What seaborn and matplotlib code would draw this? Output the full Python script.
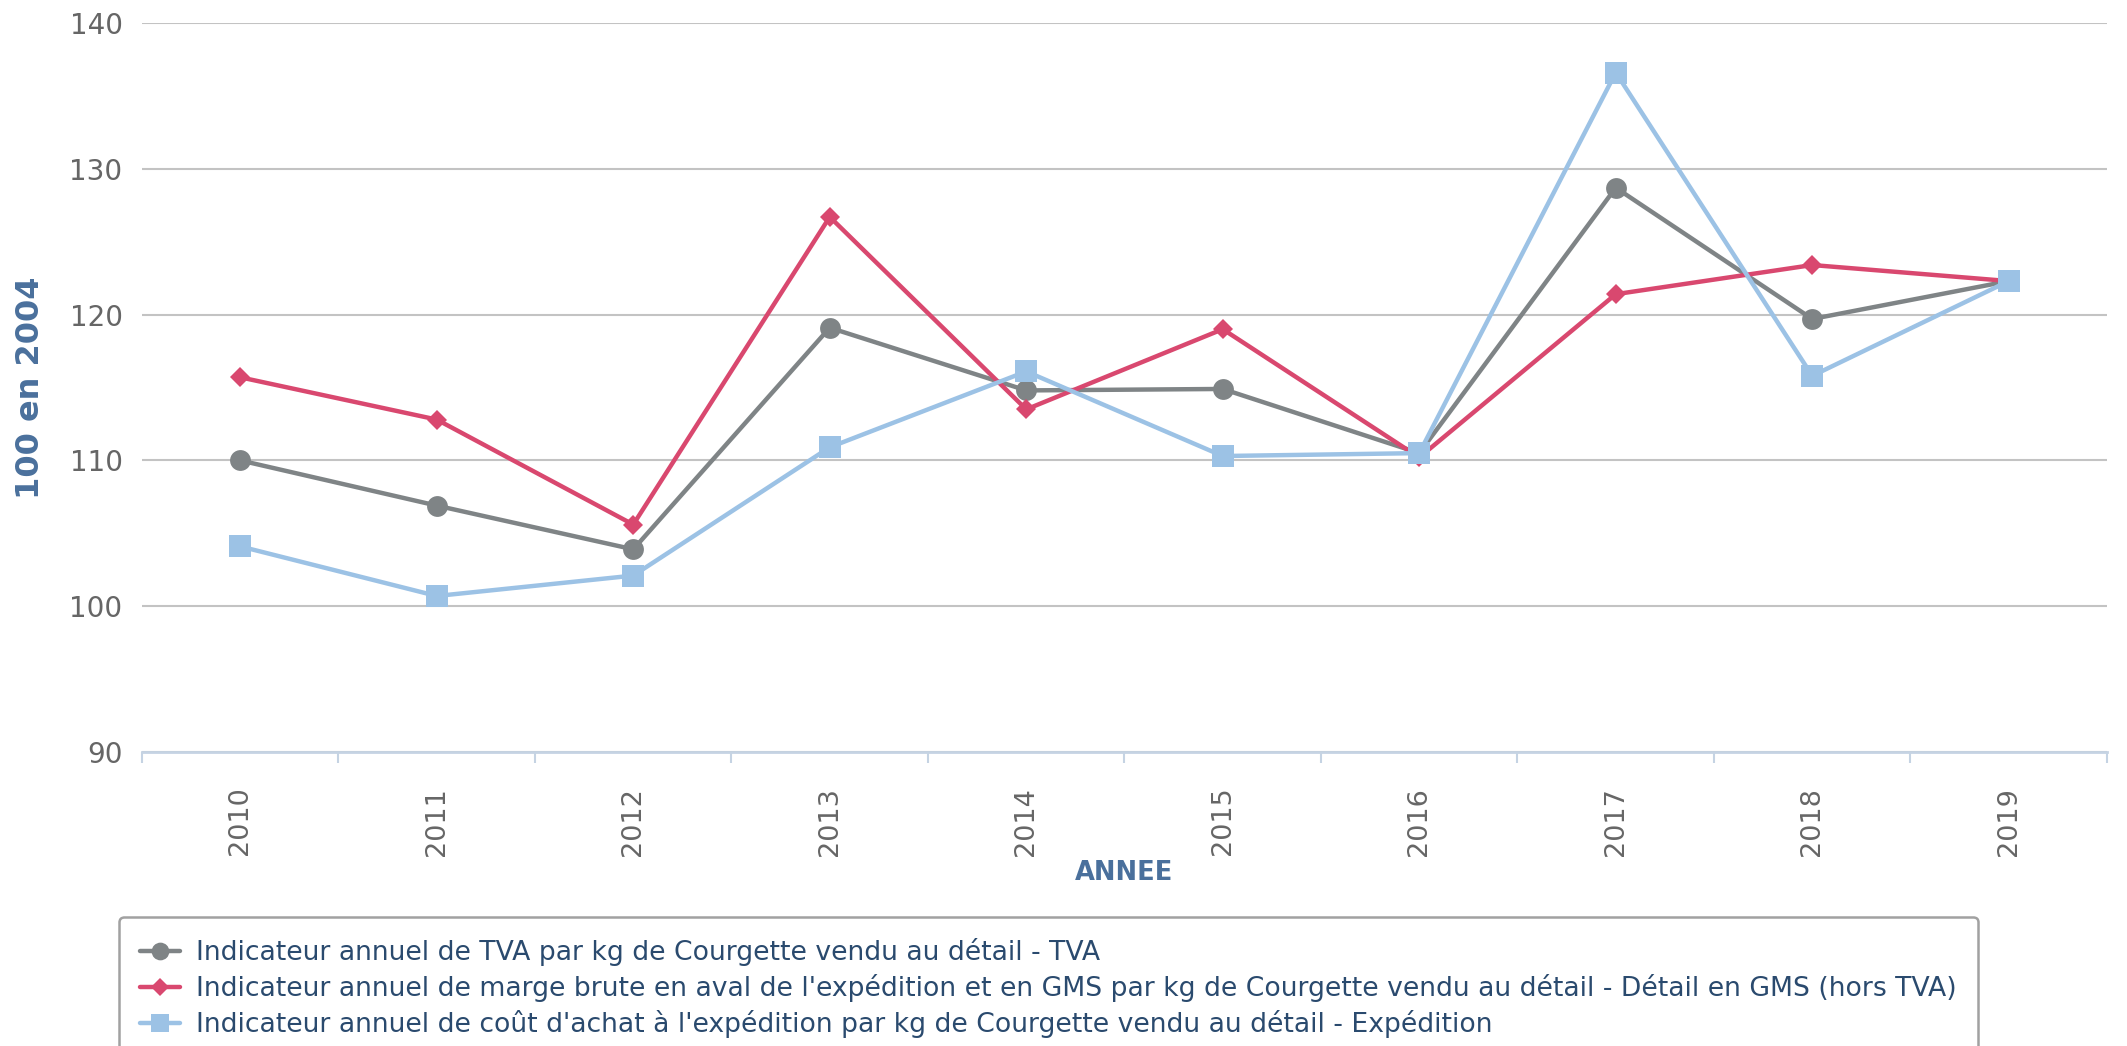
import seaborn as sns
import matplotlib.pyplot as plt
import pandas as pd

sns.set_theme(style="white")
plt.rcParams['font.family'] = ['DejaVu Sans']

years = [2010, 2011, 2012, 2013, 2014, 2015, 2016, 2017, 2018, 2019]

tva = [110.0, 106.9, 103.9, 119.1, 114.8, 114.9, 110.5, 128.7, 119.7, 122.3]
marge_gms = [115.7, 112.8, 105.6, 126.7, 113.5, 119.0, 110.2, 121.4, 123.4, 122.3]
cout_exp = [104.1, 100.7, 102.1, 110.9, 116.1, 110.3, 110.5, 136.6, 115.8, 122.3]

series_names = [
    "Indicateur annuel de TVA par kg de Courgette vendu au détail - TVA",
    "Indicateur annuel de marge brute en aval de l'expédition et en GMS par kg de Courgette vendu au détail - Détail en GMS (hors TVA)",
    "Indicateur annuel de coût d'achat à l'expédition par kg de Courgette vendu au détail - Expédition",
]
colors = ["#7f8486", "#d9486f", "#9cc2e5"]
markers = ["o", "D", "s"]
msizes = [15, 10.5, 16]

df = pd.DataFrame({"annee": years, "tva": tva, "gms": marge_gms, "exp": cout_exp})

fig = plt.figure(figsize=(21.27, 10.46), dpi=100)
ax = fig.add_axes([142 / 2127, 1 - 752 / 1046, (2107 - 142) / 2127, (752 - 23) / 1046])

for col, name, c, m, ms in zip(["tva", "gms", "exp"], series_names, colors, markers, msizes):
    sns.lineplot(data=df, x="annee", y=col, ax=ax, color=c, marker=m, markersize=ms,
                 markeredgewidth=0, linewidth=3.2, label=name)

ax.set_xlim(2009.5, 2019.5)
ax.set_ylim(90, 140)
ax.set_yticks([90, 100, 110, 120, 130, 140])
ax.set_xticks(years)
ax.set_xticklabels([str(y) for y in years], rotation=90)
ax.set_xticks([y + 0.5 for y in [2009] + years], minor=True)

ax.grid(axis="y", color="#c3c3c3", linewidth=1.5)
ax.grid(axis="x", visible=False)
for s in ["top", "right", "left"]:
    ax.spines[s].set_visible(False)
ax.spines["bottom"].set_color("#c5d3e3")
ax.spines["bottom"].set_linewidth(2)

ax.tick_params(axis="y", length=0, pad=14, labelsize=20, labelcolor="#666666")
ax.tick_params(axis="x", which="major", length=0, pad=25, labelsize=19.5, labelcolor="#666666")
ax.tick_params(axis="x", which="minor", length=8, width=1.5, color="#c5d3e3", bottom=True)

ax.set_xlabel("ANNEE", fontsize=18.5, fontweight="bold", color="#4a709c")
ax.xaxis.set_label_coords(0.5, -0.148)
ax.set_ylabel("100 en 2004", fontsize=23, fontweight="bold", color="#4a709c")
ax.yaxis.set_label_coords(-0.049, 0.5)

leg = ax.legend(loc="upper left", bbox_to_anchor=(119 / 2127, 1 - 917 / 1046),
                bbox_transform=fig.transFigure, fontsize=19.2, frameon=True, fancybox=True,
                edgecolor="#8a8a8a", handlelength=1.5, handletextpad=0.6, labelspacing=0.3,
                borderpad=0.8, borderaxespad=0, markerscale=0.85)
leg.get_frame().set_linewidth(1.8)
for t in leg.get_texts():
    t.set_color("#2a4a6e")

fig.savefig("out.png", dpi=100)
